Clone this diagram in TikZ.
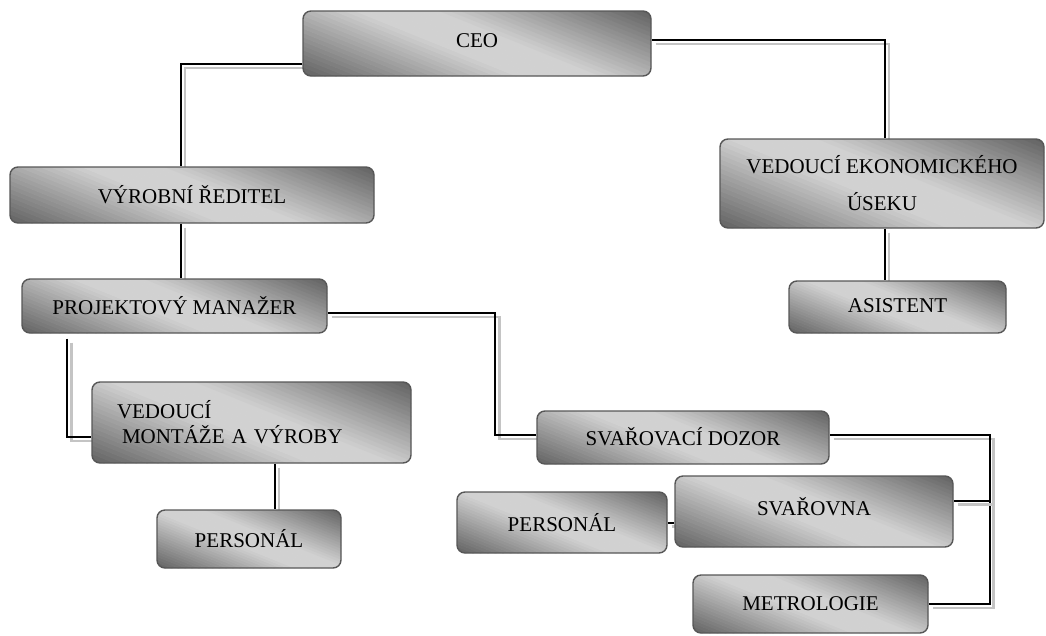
\documentclass[tikz,border=0pt]{standalone}
\usepackage{fontspec}
\setmainfont{Liberation Serif}
\usetikzlibrary{calc}
\pgfdeclarelayer{background}
\pgfsetlayers{background,main}
\definecolor{bxedge}{HTML}{575757}
\definecolor{linkshadow}{HTML}{C4C4C4}
\tikzset{
  orgbox/.style={draw=bxedge, line width=1.4pt, rounded corners=8pt, inner sep=0pt,
    font=\fontsize{21}{25}\selectfont, text=black, align=center},
  link/.style={line width=2pt, draw=black,
    preaction={draw=linkshadow, line width=2.6pt,
      transform canvas={shift={(4pt,-4pt)}}}},
}
% direction of the grey band across each box (degrees, counter-clockwise)
\newcommand\bandangle{68}
\newcommand\bandsteps{48}
% #1 extra node options, #2 name, #3/#4 centre, #5/#6 width/height, #7 text
\newcommand\orgbox[7][]{%
  \begin{scope}
    \clip[rounded corners=8pt] ({#3-#5/2},{#4-#6/2}) rectangle ({#3+#5/2},{#4+#6/2});
    \pgfmathsetmacro\bandL{#5*cos(\bandangle)+#6*sin(\bandangle)}
    \pgfmathsetmacro\bandW{#5*sin(\bandangle)+#6*cos(\bandangle)+6}
    \begin{scope}[shift={(#3,#4)}, x=1pt, y=1pt, rotate=\bandangle]
      \foreach \i in {1,...,\bandsteps}{
        \pgfmathsetmacro\bandua{-\bandL/2+(\i-1)*\bandL/\bandsteps}
        \pgfmathsetmacro\bandub{\bandua+\bandL/\bandsteps+0.5}
        \pgfmathsetmacro\bandd{abs((\i-0.5)/\bandsteps-0.5)*2}
        \pgfmathsetmacro\bandt{max(0,(\bandd-0.15)/0.85)}
        \pgfmathsetmacro\bandg{0.82-0.44*\bandt}
        \definecolor{bandcol}{gray}{\bandg}
        \fill[bandcol] (\bandua,{-\bandW/2}) rectangle (\bandub,{\bandW/2});
      }
    \end{scope}
  \end{scope}
  \node[orgbox, minimum width=#5pt, minimum height=#6pt, #1] (#2) at (#3,#4) {#7};
}
\begin{document}
\begin{tikzpicture}[x=1pt,y=-1pt]
\useasboundingbox (0,0) rectangle (1046,635);

% management
\orgbox{ceo}{477}{43.5}{348}{65}{\raisebox{5pt}{CEO}}
\orgbox{vr}{192}{195}{364}{56}{VÝROBNÍ ŘEDITEL}
\orgbox{pm}{174.5}{306}{305}{54}{PROJEKTOVÝ MANAŽER}
\orgbox[font=\fontsize{21}{37}\selectfont]{ek}{882}{183.5}{324}{89}{VEDOUCÍ EKONOMICKÉHO\\ÚSEKU}
\orgbox{as}{897.5}{307}{217}{52}{\raisebox{2pt}{ASISTENT}}

% production
\orgbox[align=left, text width=269pt, inner xsep=25pt]{vm}{251.5}{422.5}{319}{81}{VEDOUCÍ\\\hspace*{5pt}MONTÁŽE A VÝROBY}
\orgbox{pl}{249}{539}{184}{58}{PERSONÁL}

% welding
\orgbox{sd}{683}{437.5}{292}{53}{\raisebox{3pt}{SVAŘOVACÍ DOZOR}}
\orgbox{sv}{814}{511.5}{278}{71}{\raisebox{10pt}{SVAŘOVNA}}
\orgbox{pr}{562}{522.5}{210}{61}{PERSONÁL}
\orgbox{mt}{810.5}{604}{235}{58}{METROLOGIE}

\begin{pgfonlayer}{background}
  \draw[link] ([yshift=-20.5pt]ceo.west) -| ([xshift=-11pt]vr.north);
  \draw[link] ([yshift=3.5pt]ceo.east) -| ([xshift=3pt]ek.north);
  \draw[link] ([xshift=-11pt]vr.south) -- ([xshift=-11pt]vr.south |- pm.north);
  \draw[link] ([xshift=46pt,yshift=-5pt]pm.south west) |- ([yshift=-14.5pt]vm.west);
  \draw[link] ([yshift=-7pt]pm.east) -| ([xshift=-41pt,yshift=2.5pt]sd.west) -- ([yshift=2.5pt]sd.west);
  \draw[link] ([xshift=23.5pt]vm.south) -- ([xshift=23.5pt]vm.south |- pl.north);
  \draw[link] ([xshift=3pt]ek.south) -- ([xshift=3pt]ek.south |- as.north);
  \draw[link] ([yshift=2.5pt]sd.east) -- ++(160,0) coordinate (bus) |- (mt.east);
  \draw[link] ([yshift=11pt]sv.east) -- ([yshift=11pt]sv.east -| bus);
  \draw[link] (pr.east) -- (pr.east -| sv.west);
\end{pgfonlayer}
\end{tikzpicture}
\end{document}
